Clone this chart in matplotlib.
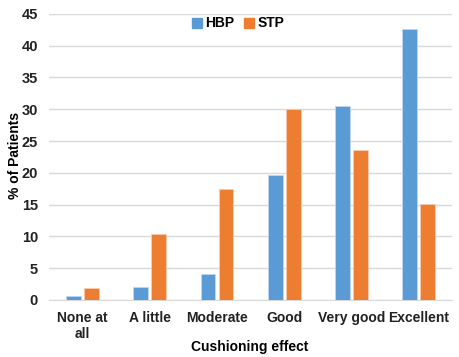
import matplotlib.pyplot as plt
from matplotlib.lines import Line2D
import numpy as np

plt.rcParams['font.family'] = ['Liberation Sans', 'DejaVu Sans']
plt.rcParams['font.weight'] = 'bold'

categories = ["None at\nall", "A little", "Moderate", "Good", "Very good", "Excellent"]
hbp = [0.6, 2.1, 4.0, 19.7, 30.5, 42.7]
stp = [1.9, 10.4, 17.4, 30.0, 23.6, 15.1]

fig = plt.figure(figsize=(4.6, 3.57), dpi=100)
ax = fig.add_axes([0.1065, 0.16, 0.8765, 0.801])

x = np.arange(len(categories))
w = 0.22
ax.bar(x - 0.135, hbp, w, color="#5B9BD5", edgecolor="#BDD7EE", linewidth=0.6, zorder=3)
ax.bar(x + 0.135, stp, w, color="#ED7D31", edgecolor="#F8CBAD", linewidth=0.6, zorder=3)

ax.set_xlim(-0.5, len(categories) - 0.5)
ax.set_ylim(0, 45)
ax.set_yticks(range(0, 46, 5))
ax.set_xticks(x)
ax.set_xticklabels(categories, fontsize=10, fontweight="bold", color="#222222")
ax.tick_params(axis="y", labelsize=10.5, colors="#222222", length=0, pad=8)
ax.tick_params(axis="x", length=0, pad=8)
ax.grid(axis="y", color="#D9D9D9", linewidth=1, zorder=0)
for s in ["top", "right", "left"]:
    ax.spines[s].set_visible(False)
ax.spines["bottom"].set_color("#D9D9D9")

fig.text(250 / 460, 1 - 347 / 357, "Cushioning effect", fontsize=10, fontweight="bold",
         ha="center", va="center")
fig.text(15 / 460, 1 - 155 / 357, "% of Patients", fontsize=10, fontweight="bold",
         ha="center", va="center", rotation=90)

handles = [Line2D([], [], marker="s", linestyle="", color="#5B9BD5", markersize=6.5),
           Line2D([], [], marker="s", linestyle="", color="#ED7D31", markersize=6.5)]
ax.legend(handles, ["HBP", "STP"], loc="upper center", bbox_to_anchor=(0.47, 1.035),
          ncol=2, frameon=False, fontsize=10, handlelength=0.6, columnspacing=0.8,
          handletextpad=0.3)

fig.savefig("out.png", dpi=100)
